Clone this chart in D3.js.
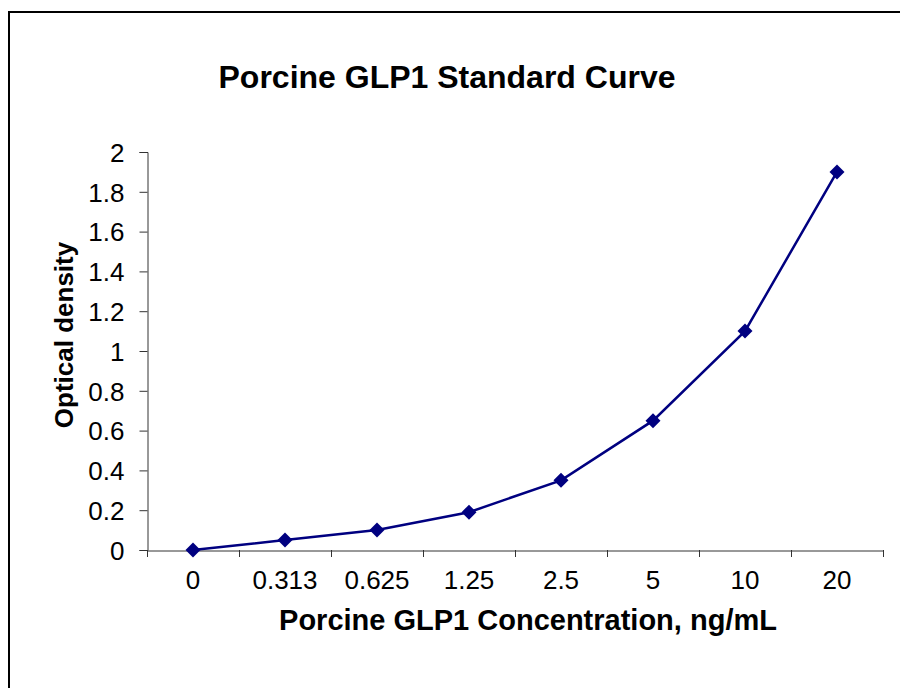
<!DOCTYPE html>
<html><head><meta charset="utf-8">
<script src="https://cdn.jsdelivr.net/npm/d3@7"></script>
<style>body{margin:0;background:#fff}svg{display:block}text{font-family:"Liberation Sans",Arial,sans-serif}</style>
</head><body>
<svg id="c" width="900" height="688"></svg>
<script>
const categories = ["0","0.313","0.625","1.25","2.5","5","10","20"];
const values = [0, 0.05, 0.10, 0.19, 0.35, 0.65, 1.10, 1.90];
const yTicks = [0,0.2,0.4,0.6,0.8,1,1.2,1.4,1.6,1.8,2];
const title = "Porcine GLP1 Standard Curve";
const xTitle = "Porcine GLP1 Concentration, ng/mL";
const yTitle = "Optical density";

const svg = d3.select("#c");
svg.append("rect").attr("x",9).attr("y",12).attr("width",1000).attr("height",800)
  .attr("fill","#fff").attr("stroke","#000").attr("stroke-width",2);

const x = d3.scaleBand().domain(categories).range([147,883]).padding(0);
const y = d3.scaleLinear().domain([0,2]).range([550,152]);

// Y axis
const ya = svg.append("g").attr("transform","translate(147.5,0)")
  .call(d3.axisLeft(y).tickValues(yTicks).tickSize(8).tickPadding(15)
    .tickFormat(d=>String(+d.toFixed(1))));
ya.select(".domain").attr("stroke","#333");
ya.selectAll(".tick line").attr("stroke","#333");
ya.selectAll(".tick text").attr("font-size",26).attr("fill","#000").attr("dy","0.36em");
ya.attr("font-family",null);

// X axis
const xa = svg.append("g").attr("transform","translate(0,550.5)")
  .call(d3.axisBottom(x).tickSize(0).tickPadding(20));
xa.select(".domain").attr("stroke","#333");
xa.selectAll(".tick text").attr("font-size",26).attr("fill","#000").attr("dy","0.72em");
xa.attr("font-family",null);
const bounds = categories.map(c=>x(c)).concat([x.range()[1]]);
svg.append("g").selectAll("line").data(bounds).join("line")
  .attr("x1",d=>Math.round(d)+0.5).attr("x2",d=>Math.round(d)+0.5)
  .attr("y1",550).attr("y2",557).attr("stroke","#333");

// Line + markers
const pts = categories.map((c,i)=>[x(c)+x.bandwidth()/2, y(values[i])]);
svg.append("path").datum(pts).attr("d",d3.line()).attr("fill","none")
  .attr("stroke","#000080").attr("stroke-width",2.5);
svg.append("g").selectAll("path").data(pts).join("path")
  .attr("transform",d=>`translate(${d[0]},${d[1]})`)
  .attr("d","M0,-7.5L7.5,0L0,7.5L-7.5,0Z").attr("fill","#000080");

// Titles
svg.append("text").attr("x",447).attr("y",88).attr("text-anchor","middle")
  .attr("font-size",32).attr("font-weight","bold").text(title);
svg.append("text").attr("x",528).attr("y",630).attr("text-anchor","middle")
  .attr("font-size",29).attr("font-weight","bold").text(xTitle);
svg.append("text").attr("transform","translate(73,335) rotate(-90)").attr("text-anchor","middle")
  .attr("font-size",26).attr("font-weight","bold").text(yTitle);
</script>
</body></html>
